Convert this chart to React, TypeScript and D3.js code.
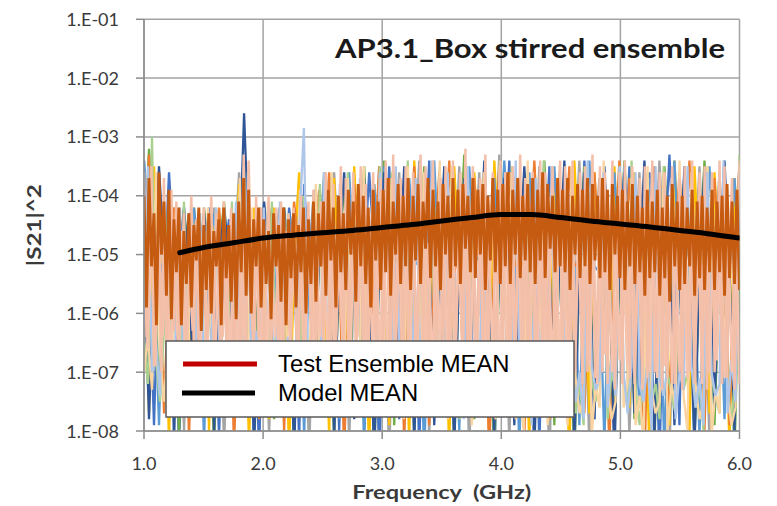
import React from 'react';
import * as d3 from 'd3';

// ---------- axes ----------
const X_TICKS = [1, 2, 3, 4, 5, 6];
const X_TICK_LABELS = ['1.0', '2.0', '3.0', '4.0', '5.0', '6.0'];
const Y_TICKS = [1e-1, 1e-2, 1e-3, 1e-4, 1e-5, 1e-6, 1e-7, 1e-8];
const Y_TICK_LABELS = ['1.E-01', '1.E-02', '1.E-03', '1.E-04', '1.E-05', '1.E-06', '1.E-07', '1.E-08'];

// ---------- ensemble traces: log10(|S21|^2), swept uniformly 1 -> 6 GHz ----------
const BLUE = [
  -3.4,-5.2,-7.9,-4.9,-5.5,-3.6,-5.1,-8.3,-5.4,-4.3,-5.0,-7.2,
  -5.3,-4.2,-5.6,-8.1,-5.0,-4.4,-5.2,-7.6,-3.7,-5.1,-5.5,-8.4,
  -4.9,-4.3,-7.7,-5.2,-5.4,-4.2,-5.0,-8.2,-3.8,-5.3,-4.8,-7.5,
  -5.1,-3.7,-5.4,-8.0,-5.0,-3.9,-5.6,-7.4,-5.2,-3.6,-4.9,-8.5,
  -5.3,-3.5,-5.0,-7.8,-5.4,-3.8,-5.1,-8.3,-5.2,-3.4,-5.5,-7.6,
  -3.6,-5.2,-8.1,-5.0,-3.5,-5.3,-7.7,-5.1,-3.9,-5.4,-8.6,-5.0,
  -5.2,-3.4,-5.1,-7.9,-5.3,-3.7,-5.0,-8.2,-5.4,-3.5,-5.2,-7.5,
  -3.7,-5.0,-8.4,-5.3,-3.4,-5.1,-7.8,-5.2,-3.6,-5.5,-8.0,-5.1,
  -5.3,-3.5,-5.2,-7.6,-5.0,-3.6,-5.4,-8.5,-5.1,-3.3,-5.2,-7.9,
  -3.6,-5.1,-8.2,-5.3,-3.5,-5.0,-7.7,-5.2,-3.8,-5.4,-8.3,-3.5];
const GRAY = [
  -5.1,-3.3,-5.4,-7.6,-5.0,-5.2,-4.2,-5.3,-8.0,-5.1,-4.3,-5.5,
  -7.4,-5.2,-4.2,-5.0,-8.3,-5.3,-5.1,-3.6,-5.4,-7.9,-5.0,-4.3,
  -5.2,-8.1,-5.0,-4.2,-5.3,-7.5,-5.1,-3.7,-5.4,-8.4,-5.2,-4.0,
  -5.0,-7.7,-3.6,-5.3,-5.1,-8.2,-5.2,-3.8,-5.0,-7.6,-5.4,-3.5,
  -5.2,-8.5,-5.0,-3.6,-5.4,-7.8,-5.1,-3.4,-5.3,-8.1,-5.0,-3.7,
  -5.1,-7.5,-5.3,-3.5,-5.2,-8.4,-5.0,-3.6,-5.4,-7.9,-5.1,-3.3,
  -5.3,-8.2,-5.0,-3.7,-5.1,-7.6,-5.4,-3.5,-5.2,-8.6,-5.0,-3.6,
  -5.2,-7.8,-5.1,-3.4,-5.3,-8.3,-5.0,-3.7,-5.2,-7.5,-5.4,-3.5,
  -5.0,-8.1,-5.3,-3.6,-5.1,-7.7,-5.2,-3.4,-5.0,-8.4,-5.3,-3.8,
  -5.1,-7.9,-5.2,-3.5,-5.4,-8.2,-5.0,-3.6,-5.3,-7.6,-5.1,-3.4];
const GOLD = [
  -4.9,-7.7,-3.5,-5.2,-5.0,-8.2,-4.3,-5.3,-5.1,-7.5,-4.2,-5.4,
  -5.0,-8.0,-4.3,-5.2,-5.1,-7.6,-5.3,-3.8,-5.0,-8.3,-4.2,-5.1,
  -5.3,-7.8,-4.2,-5.0,-5.2,-8.4,-5.1,-3.6,-5.3,-7.5,-4.1,-5.2,
  -5.0,-8.1,-3.7,-5.4,-5.1,-7.6,-3.5,-5.2,-5.0,-8.5,-3.8,-5.3,
  -5.2,-7.9,-3.6,-5.0,-5.3,-8.2,-3.4,-5.1,-5.2,-7.7,-3.7,-5.4,
  -5.1,-8.4,-3.5,-5.3,-5.0,-7.6,-3.6,-5.2,-5.4,-8.1,-3.4,-5.0,
  -5.3,-7.5,-3.7,-5.1,-5.2,-8.3,-3.5,-5.0,-5.1,-7.8,-3.6,-5.3,
  -5.0,-8.6,-3.4,-5.2,-5.3,-7.7,-3.6,-5.1,-5.0,-8.2,-3.5,-5.4,
  -5.2,-7.6,-3.6,-5.0,-5.1,-8.4,-3.7,-5.3,-5.2,-7.9,-3.4,-5.1,
  -5.1,-8.1,-3.5,-5.3,-5.0,-7.7,-3.6,-5.2,-5.4,-8.3,-3.7,-5.0];
const GREEN = [
  -5.2,-3.2,-5.0,-7.4,-5.3,-4.2,-5.1,-8.1,-5.0,-4.3,-5.4,-7.7,
  -4.2,-5.1,-8.4,-5.0,-4.1,-5.3,-7.6,-5.2,-3.6,-5.0,-8.0,-5.1,
  -4.3,-5.2,-7.8,-5.0,-4.2,-5.3,-8.3,-5.1,-4.0,-5.2,-7.5,-5.0,
  -3.6,-5.3,-8.2,-5.1,-3.8,-5.0,-7.7,-5.2,-3.5,-5.4,-8.5,-5.1,
  -3.4,-5.0,-7.9,-5.3,-3.7,-5.2,-8.1,-5.0,-3.5,-5.1,-7.6,-5.3,
  -3.7,-5.2,-8.3,-5.0,-3.3,-5.1,-7.8,-5.4,-3.6,-5.0,-8.4,-5.2,
  -3.5,-5.1,-7.7,-5.3,-3.6,-5.0,-8.2,-5.2,-3.4,-5.3,-7.9,-5.1,
  -3.6,-5.3,-8.5,-5.0,-3.5,-5.2,-7.6,-5.1,-3.7,-5.0,-8.1,-5.3,
  -3.4,-5.0,-7.8,-5.2,-3.6,-5.3,-8.3,-5.0,-3.5,-5.1,-7.7,-5.2,
  -3.7,-5.2,-8.2,-5.1,-3.4,-5.0,-7.9,-5.3,-3.6,-5.2,-8.4,-5.0];
const MID_BLUE = [
  -3.4,-5.0,-5.3,-7.9,-5.1,-4.3,-5.2,-5.0,-7.5,-5.3,-4.2,-5.1,
  -8.2,-5.0,-4.3,-5.2,-5.1,-7.7,-5.3,-4.1,-3.5,-5.0,-8.4,-5.2,
  -4.2,-5.1,-5.0,-7.6,-5.3,-4.3,-5.2,-5.1,-8.1,-5.0,-3.9,-5.2,
  -3.7,-5.3,-5.1,-7.8,-5.0,-3.6,-5.2,-5.3,-8.3,-5.1,-3.8,-5.0,
  -3.5,-5.2,-5.0,-7.6,-5.3,-3.7,-5.1,-5.2,-8.5,-5.0,-3.4,-5.3,
  -3.6,-5.1,-5.3,-8.0,-5.2,-3.5,-5.0,-5.1,-7.7,-5.3,-3.7,-5.2,
  -3.4,-5.0,-5.2,-8.3,-5.1,-3.6,-5.3,-5.0,-7.5,-5.2,-3.5,-5.1,
  -3.7,-5.3,-5.1,-7.9,-5.0,-3.4,-5.2,-5.3,-8.2,-5.1,-3.6,-5.0,
  -3.5,-5.2,-5.0,-7.6,-5.3,-3.7,-5.1,-5.2,-8.4,-5.0,-3.4,-5.3,
  -3.6,-5.1,-5.3,-8.1,-5.2,-3.5,-5.0,-5.1,-7.8,-5.3,-3.7,-5.2];
const ORANGE = [
  -5.3,-3.3,-5.1,-5.0,-7.7,-5.2,-4.2,-5.3,-5.1,-8.1,-5.0,-4.3,
  -5.2,-7.5,-5.0,-4.2,-5.3,-5.1,-8.3,-5.2,-3.6,-5.0,-5.3,-7.8,
  -5.1,-4.2,-5.0,-5.2,-8.0,-5.3,-4.1,-5.0,-5.1,-7.6,-5.2,-3.9,
  -5.0,-3.6,-5.2,-5.1,-8.4,-5.3,-3.8,-5.0,-5.2,-7.7,-5.1,-3.5,
  -5.3,-3.7,-5.0,-5.2,-8.2,-5.1,-3.5,-5.3,-5.0,-7.9,-5.2,-3.6,
  -5.1,-3.4,-5.3,-5.0,-7.6,-5.2,-3.7,-5.1,-5.3,-8.5,-5.0,-3.5,
  -5.2,-3.6,-5.1,-5.3,-8.1,-5.0,-3.4,-5.2,-5.1,-7.8,-5.3,-3.7,
  -5.0,-3.5,-5.2,-5.1,-7.7,-5.3,-3.6,-5.0,-5.2,-8.3,-5.1,-3.4,
  -5.3,-3.7,-5.0,-5.2,-8.6,-5.1,-3.5,-5.3,-5.0,-7.6,-5.2,-3.6,
  -5.1,-3.4,-5.3,-5.0,-8.0,-5.2,-3.7,-5.1,-5.3,-7.9,-5.0,-3.5];
const DARK_BLUE = [
  -5.0,-7.8,-5.2,-3.5,-5.1,-4.3,-8.2,-5.0,-4.2,-5.3,-7.6,-5.1,
  -4.3,-5.0,-8.0,-5.2,-4.2,-5.1,-7.5,-5.3,-2.6,-5.0,-8.3,-5.2,
  -4.1,-5.1,-7.7,-5.0,-4.2,-5.3,-8.4,-5.1,-4.0,-5.2,-7.6,-5.0,
  -3.8,-5.2,-8.1,-5.0,-3.6,-5.3,-7.8,-5.1,-3.7,-5.0,-8.5,-5.2,
  -3.6,-5.0,-7.6,-5.3,-3.5,-5.1,-8.2,-5.2,-3.8,-5.0,-7.9,-5.3,
  -3.5,-5.2,-8.3,-5.1,-3.7,-5.0,-7.7,-5.3,-3.4,-5.2,-8.0,-5.1,
  -3.7,-5.1,-7.9,-5.2,-3.5,-5.3,-8.4,-5.0,-3.6,-5.1,-7.6,-5.2,
  -3.4,-5.3,-8.2,-5.0,-3.6,-5.2,-7.8,-5.1,-3.5,-5.3,-8.5,-5.0,
  -3.6,-5.0,-7.7,-5.3,-3.4,-5.1,-8.1,-5.2,-3.7,-5.0,-7.9,-5.3,
  -3.5,-5.2,-8.3,-5.1,-3.6,-5.0,-7.6,-5.2,-3.4,-5.3,-8.0,-3.6];
const LIGHT_GREEN = [
  -6.5,-7.2,-3.0,-6.8,-7.5,-6.3,-4.2,-7.1,-6.6,-7.4,-4.1,-6.9,-7.2,-6.4,-4.3,
  -7.0,-6.6,-7.5,-4.2,-6.8,-7.3,-6.5,-4.1,-7.4,-6.9,-3.5,-7.1,-6.7,-7.6,-4.2,
  -6.9,-7.2,-4.1,-6.6,-7.5,-6.8,-4.3,-7.0,-6.5,-7.3,-4.0,-6.9,-7.4,-6.7,-3.8,
  -7.1,-6.8,-3.7,-7.4,-6.6,-7.2,-3.6,-6.9,-7.6,-6.7,-3.8,-7.3,-6.8,-7.0,-3.5,
  -7.3,-6.9,-3.6,-7.5,-6.8,-7.7,-3.4,-7.0,-7.2,-6.7,-3.7,-7.6,-6.9,-7.4,-3.5,
  -7.0,-7.5,-3.6,-6.9,-7.8,-7.1,-3.5,-7.3,-6.8,-7.6,-3.7,-7.0,-7.4,-6.9,-3.4,
  -7.2,-7.7,-3.5,-7.0,-7.4,-6.9,-3.6,-7.8,-7.1,-7.3,-3.4,-6.9,-7.6,-7.2,-3.7,
  -7.4,-7.0,-3.6,-7.7,-7.2,-7.9,-3.5,-7.1,-7.5,-6.9,-3.7,-7.8,-7.0,-7.3,-3.5,
  -7.1,-7.6,-3.4,-7.3,-7.9,-7.0,-3.6,-7.5,-7.2,-7.8,-3.5,-7.0,-7.4,-7.7,-3.6,
  -7.3,-7.0,-3.7,-7.6,-7.2,-8.0,-3.5,-7.1,-7.4,-7.7,-3.6,-7.2,-7.9,-7.0,-3.3];
const LIGHT_ORANGE = [
  -7.0,-6.4,-7.3,-3.6,-6.7,-7.5,-6.5,-7.1,-4.2,-6.9,-7.4,-6.6,-4.3,-7.2,-6.8,
  -7.5,-4.2,-6.7,-7.3,-6.9,-4.1,-7.6,-6.6,-7.1,-3.7,-7.4,-6.8,-4.2,-7.0,-6.5,
  -7.3,-4.1,-6.8,-7.6,-6.6,-4.2,-7.1,-6.9,-7.5,-3.9,-7.2,-6.7,-7.4,-3.8,-7.0,
  -6.9,-7.5,-3.6,-7.2,-6.8,-7.7,-3.7,-7.0,-7.4,-6.9,-3.5,-7.6,-7.1,-6.8,-3.8,
  -7.4,-7.0,-3.7,-7.6,-7.2,-7.8,-3.5,-6.9,-7.3,-7.5,-3.6,-7.1,-7.7,-7.0,-3.4,
  -7.2,-7.8,-3.5,-7.0,-7.5,-7.3,-3.7,-7.9,-7.1,-7.4,-3.6,-7.2,-7.6,-7.8,-3.5,
  -7.5,-7.1,-3.6,-7.8,-7.3,-8.0,-3.4,-7.2,-7.6,-7.4,-3.7,-7.9,-7.1,-7.5,-3.5,
  -7.3,-7.9,-3.5,-7.1,-7.7,-7.4,-3.6,-8.1,-7.2,-7.6,-3.4,-7.3,-7.8,-7.5,-3.6,
  -7.6,-7.2,-3.7,-7.9,-7.4,-8.2,-3.5,-7.3,-7.7,-7.5,-3.6,-8.0,-7.2,-7.6,-3.4,
  -7.4,-8.0,-3.6,-7.2,-7.8,-7.5,-3.5,-8.1,-7.3,-7.7,-3.7,-7.4,-7.9,-7.6,-3.5];
const LIGHT_BLUE = [
  -6.2,-3.5,-7.0,-6.5,-7.4,-4.1,-6.8,-7.2,-6.3,-4.2,-7.5,-6.6,-7.1,-6.4,-4.3,
  -6.9,-7.3,-6.2,-4.2,-7.0,-6.7,-7.6,-6.5,-4.1,-7.2,-6.8,-3.6,-7.4,-6.3,-7.0,
  -4.2,-6.6,-7.3,-6.9,-4.1,-7.1,-6.4,-7.5,-6.7,-4.3,-2.85,-6.8,-7.2,-6.5,-7.4,
  -3.6,-6.9,-7.0,-6.4,-3.8,-7.3,-6.6,-7.6,-6.8,-3.7,-7.1,-6.5,-7.4,-6.9,-3.6,
  -7.0,-6.6,-7.5,-3.5,-6.9,-7.2,-6.7,-7.7,-3.7,-6.5,-7.3,-6.9,-3.4,-7.6,-6.8,
  -7.1,-3.6,-6.7,-7.4,-6.9,-7.8,-3.5,-6.6,-7.2,-7.0,-3.8,-7.5,-6.8,-7.3,-3.6,
  -6.9,-7.6,-6.6,-3.4,-7.1,-7.3,-6.8,-7.9,-3.7,-6.7,-7.4,-7.0,-3.5,-7.7,-6.9,
  -7.2,-3.7,-6.8,-7.5,-7.0,-7.8,-3.4,-6.9,-7.3,-7.1,-3.6,-7.6,-6.7,-7.4,-3.5,
  -7.0,-7.7,-6.9,-3.6,-7.2,-7.5,-6.8,-8.0,-3.5,-7.1,-7.4,-6.9,-3.7,-7.8,-7.0,
  -7.3,-3.5,-6.9,-7.6,-7.1,-7.9,-3.6,-7.0,-7.4,-7.2,-3.4,-7.7,-6.8,-7.5,-3.6];
const PEACH = [
  -4.8,-6.6,-4.5,-6.9,-5.0,-6.4,-4.7,-7.0,-4.9,-6.5,-4.6,-6.8,-5.1,-6.3,-4.8,-6.7,
  -5.0,-6.5,-4.7,-6.9,-4.9,-6.4,-5.2,-6.8,-4.6,-7.0,-4.9,-6.6,-4.8,-6.3,-5.0,-6.9,
  -4.7,-6.6,-5.0,-6.4,-4.8,-7.0,-4.6,-6.5,-5.1,-6.8,-4.9,-6.6,-4.7,-6.9,-5.0,-6.4,
  -4.8,-6.7,-4.6,-6.9,-5.0,-6.5,-4.7,-6.8,-4.9,-6.4,-4.6,-7.0,-4.8,-6.6,-5.0,-6.8,
  -4.6,-6.9,-4.8,-6.5,-4.5,-7.0,-4.9,-6.6,-4.7,-6.8,-4.5,-6.7,-4.8,-7.1,-4.6,-6.6,
  -4.7,-6.8,-4.5,-7.0,-4.8,-6.6,-4.6,-7.1,-4.9,-6.7,-4.5,-6.9,-4.7,-6.6,-4.8,-7.0,
  -4.5,-6.9,-4.7,-6.7,-4.6,-7.2,-4.8,-6.8,-4.5,-7.0,-4.7,-6.6,-4.6,-7.1,-4.8,-6.9,
  -4.6,-7.1,-4.8,-6.8,-4.5,-7.0,-4.7,-6.9,-4.6,-7.2,-4.8,-6.7,-4.5,-7.0,-4.7,-6.8,
  -4.7,-6.9,-4.5,-7.2,-4.8,-6.8,-4.6,-7.0,-4.7,-7.1,-4.5,-6.9,-4.8,-7.2,-4.6,-7.0,
  -4.6,-7.1,-4.8,-6.9,-4.7,-7.2,-4.5,-7.0,-4.8,-6.8,-4.6,-7.1,-4.7,-7.0,-4.5,-7.2];
const SALMON = [
  -3.6,-6.4,-5.0,-3.5,-6.9,-5.8,-4.2,-7.0,-3.7,-6.6,-5.2,-3.9,
  -6.3,-4.1,-6.7,-5.6,-4.3,-7.0,-5.1,-4.0,-6.5,-4.4,-6.9,-5.3,
  -4.2,-6.8,-5.7,-4.0,-6.6,-4.3,-5.4,-7.1,-4.1,-6.5,-5.1,-4.2,
  -6.7,-5.9,-4.1,-7.0,-3.3,-6.6,-3.4,-5.3,-6.9,-4.0,-6.4,-4.2,
  -6.9,-5.6,-4.0,-6.7,-5.0,-4.2,-7.0,-4.1,-6.5,-5.4,-4.3,-6.6,
  -4.2,-5.8,-7.1,-4.0,-6.8,-5.2,-4.1,-6.5,-3.9,-6.9,-5.0,-4.1,
  -6.7,-3.6,-5.5,-6.9,-3.8,-6.6,-5.1,-3.5,-7.0,-3.7,-6.5,-5.4,
  -3.6,-6.9,-5.7,-3.5,-7.2,-3.8,-6.7,-5.0,-3.6,-6.8,-5.3,-3.7,
  -6.8,-3.4,-5.6,-7.0,-3.3,-6.9,-5.2,-3.7,-7.1,-3.5,-6.7,-5.0,
  -3.6,-7.0,-5.8,-3.3,-6.8,-3.5,-7.2,-5.1,-3.4,-6.9,-5.4,-3.7,
  -6.9,-3.5,-5.7,-7.1,-3.4,-6.8,-5.3,-3.6,-7.0,-3.2,-7.2,-5.0,
  -3.5,-7.1,-5.9,-3.7,-6.9,-3.3,-7.0,-5.0,-3.6,-7.3,-5.2,-3.4,
  -7.0,-3.6,-5.6,-7.2,-3.5,-6.9,-5.2,-3.3,-7.1,-3.7,-7.0,-5.1,
  -3.6,-7.2,-5.8,-3.4,-7.0,-3.6,-7.3,-5.1,-3.5,-6.9,-5.3,-3.4,
  -6.9,-3.5,-5.7,-7.3,-3.4,-7.0,-5.3,-3.6,-7.2,-3.5,-7.0,-5.0,
  -3.3,-7.1,-5.9,-3.5,-7.0,-3.6,-7.2,-5.0,-3.4,-7.3,-5.2,-3.6,
  -7.2,-3.4,-5.8,-7.1,-3.5,-7.0,-5.2,-3.7,-7.3,-3.5,-7.1,-5.0,
  -3.4,-7.0,-5.7,-3.6,-7.3,-3.6,-7.1,-5.1,-3.5,-7.2,-5.3,-3.7,
  -7.3,-3.5,-5.9,-7.0,-3.4,-7.2,-5.3,-3.6,-7.1,-3.5,-7.3,-5.0,
  -3.6,-7.0,-5.8,-3.4,-7.2,-3.5,-7.1,-5.0,-3.7,-7.3,-5.1,-3.4];
const DARK_ORANGE = [
  -4.0,-5.9,-3.7,-5.2,-4.3,-6.2,-3.6,-5.0,-4.1,-5.7,-3.9,-6.1,
  -4.4,-5.3,-4.2,-6.2,-4.6,-5.5,-4.3,-5.9,-4.5,-5.1,-4.2,-6.3,
  -4.5,-5.6,-4.3,-6.0,-4.6,-5.2,-4.4,-6.2,-4.2,-5.4,-4.5,-5.8,
  -4.3,-6.1,-4.1,-5.3,-3.7,-5.7,-3.9,-6.0,-4.4,-5.2,-4.2,-5.9,
  -4.4,-5.5,-4.6,-6.1,-4.3,-5.2,-4.5,-5.8,-4.2,-6.2,-4.4,-5.4,
  -4.3,-5.9,-4.5,-5.3,-4.2,-6.0,-4.4,-5.5,-4.1,-5.8,-4.3,-5.2,
  -4.1,-5.7,-3.9,-5.1,-4.2,-5.9,-4.0,-5.3,-4.3,-5.6,-3.9,-5.0,
  -4.1,-5.8,-3.8,-5.2,-4.0,-5.5,-4.2,-5.9,-3.9,-5.1,-4.1,-5.6,
  -3.9,-5.3,-3.7,-5.7,-4.1,-5.0,-3.8,-5.5,-4.0,-5.2,-3.7,-5.6,
  -4.0,-5.1,-3.8,-5.5,-4.1,-4.9,-3.7,-5.4,-3.9,-5.2,-4.1,-5.6,
  -3.8,-5.0,-4.0,-5.4,-3.7,-5.2,-3.9,-5.5,-3.8,-4.9,-4.0,-5.3,
  -3.7,-5.4,-3.9,-5.0,-3.8,-5.6,-4.0,-5.1,-3.7,-5.3,-3.9,-5.5,
  -3.8,-5.2,-3.6,-5.5,-3.9,-5.0,-3.7,-5.4,-4.0,-5.1,-3.8,-5.3,
  -3.7,-5.5,-3.9,-5.1,-3.6,-5.4,-3.8,-4.9,-4.0,-5.3,-3.7,-5.2,
  -3.9,-5.3,-3.7,-5.6,-4.0,-5.0,-3.8,-5.4,-3.9,-5.2,-3.7,-5.5,
  -3.8,-5.1,-4.0,-5.4,-3.7,-5.3,-3.9,-5.6,-3.8,-5.0,-4.0,-5.4,
  -3.9,-5.6,-4.1,-5.2,-3.8,-5.5,-4.0,-5.3,-4.2,-5.7,-3.9,-5.4,
  -4.1,-5.3,-3.9,-5.7,-4.2,-5.4,-4.0,-5.8,-3.8,-5.2,-4.1,-5.6,
  -4.0,-5.5,-4.2,-5.2,-3.9,-5.7,-4.1,-5.4,-4.0,-5.6,-4.2,-5.3,
  -3.9,-5.6,-4.1,-5.3,-4.0,-5.7,-3.8,-5.4,-4.1,-5.5,-3.9,-5.6];

// Model MEAN (smooth curve)
const MODEL_FREQ = [1.3, 1.5, 1.75, 2.0, 2.25, 2.5, 2.75, 3.0, 3.25, 3.5, 3.75, 4.0, 4.25, 4.5, 4.75, 5.0, 5.25, 5.5, 5.75, 6.0];
const MODEL_LOG = [-4.97, -4.88, -4.80, -4.72, -4.67, -4.63, -4.59, -4.54, -4.49, -4.43, -4.37, -4.32, -4.32, -4.37, -4.43, -4.48, -4.53, -4.59, -4.65, -4.72];

const TITLE = 'AP3.1_Box stirred ensemble';
const X_TITLE = 'Frequency\u00A0 (GHz)';
const Y_TITLE = '|S21|^2';
const LEGEND_LABELS = ['Test Ensemble MEAN', 'Model MEAN'];

// drawing order (back to front) and colours
const TRACES = [
  { values: BLUE, color: '#4472C4' },
  { values: GRAY, color: '#A5A5A5' },
  { values: GOLD, color: '#FFC000' },
  { values: GREEN, color: '#70AD47' },
  { values: MID_BLUE, color: '#5B9BD5' },
  { values: ORANGE, color: '#ED7D31' },
  { values: DARK_BLUE, color: '#2F5597' },
  { values: LIGHT_GREEN, color: '#A9D08E' },
  { values: LIGHT_ORANGE, color: '#F9D3A0' },
  { values: LIGHT_BLUE, color: '#ADC6EA' },
  { values: PEACH, color: '#F5C3AE' },
  { values: SALMON, color: '#F4BFA9' },
  { values: DARK_ORANGE, color: '#C55A11' },
];

export default function App() {
  const W = 777, H = 506;
  const left = 144, right = 739.5, top = 19.3, bottom = 431;
  const x = d3.scaleLinear().domain([1, 6]).range([left, right]);
  const y = d3.scaleLog().domain([1e-8, 1e-1]).range([bottom, top]);
  const line = d3.line<[number, number]>();
  const smooth = d3.line<[number, number]>().curve(d3.curveMonotoneX);

  const pts = (vals: number[]) => {
    const n = vals.length;
    return vals.map((v, i) => [x(1 + (5 * i) / (n - 1)), y(Math.pow(10, v))] as [number, number]);
  };
  const modelPath = smooth(MODEL_FREQ.map((f, i) => [x(f), y(Math.pow(10, MODEL_LOG[i]))]));

  const grid = '#A3A3A3';
  const axisCol = '#8C8C8C';
  const font = 'Lato, "Open Sans", sans-serif';
  const widthFor = (i: number) => (i === TRACES.length - 1 ? 2.9 : i >= 10 ? 2.5 : 2.3);

  return (
    <svg width={W} height={H} style={{ position: 'absolute', left: 0, top: 0 }}>
      <rect x={0} y={0} width={W} height={H} fill="#fff" />
      <defs>
        <clipPath id="plotClip">
          <rect x={left} y={top} width={right - left} height={bottom - top} />
        </clipPath>
      </defs>

      {Y_TICKS.map((t) => (
        <line key={'hy' + t} x1={left} x2={right} y1={y(t)} y2={y(t)} stroke={grid} strokeWidth={1.5} />
      ))}
      {X_TICKS.map((t) => (
        <line key={'vx' + t} x1={x(t)} x2={x(t)} y1={top} y2={bottom} stroke={grid} strokeWidth={1.5} />
      ))}

      <g clipPath="url(#plotClip)" fill="none">
        {TRACES.map((t, i) => (
          <path key={i} d={line(pts(t.values)) || ''} stroke={t.color}
            strokeWidth={widthFor(i)} strokeLinejoin="bevel" />
        ))}
        <path d={modelPath || ''} stroke="#000" strokeWidth={5} strokeLinecap="round" />
      </g>

      <line x1={left} x2={left} y1={top} y2={bottom + 0.5} stroke={axisCol} strokeWidth={1.5} />
      <line x1={left} x2={right} y1={bottom} y2={bottom} stroke={axisCol} strokeWidth={1.5} />
      {Y_TICKS.map((t) => (
        <line key={'ty' + t} x1={left - 8} x2={left} y1={y(t)} y2={y(t)} stroke={axisCol} strokeWidth={1.5} />
      ))}
      {X_TICKS.map((t) => (
        <line key={'tx' + t} x1={x(t)} x2={x(t)} y1={bottom} y2={bottom + 8} stroke={axisCol} strokeWidth={1.5} />
      ))}

      {Y_TICKS.map((t, i) => (
        <text key={'ly' + t} x={119} y={y(t) + 6.5} textAnchor="end" fontFamily={font} fontSize={18} fill="#3A3A3A">
          {Y_TICK_LABELS[i]}
        </text>
      ))}
      {X_TICKS.map((t, i) => (
        <text key={'lx' + t} x={x(t)} y={470} textAnchor="middle" fontFamily={font} fontSize={18} fill="#3A3A3A">
          {X_TICK_LABELS[i]}
        </text>
      ))}

      <text x={(left + right) / 2} y={499} textAnchor="middle" fontFamily={font} fontWeight="bold" fontSize={19}
        fill="#3A3A3A" textLength={179} lengthAdjust="spacingAndGlyphs">
        {X_TITLE}
      </text>
      <text transform={`translate(41, ${(top + bottom) / 2}) rotate(-90)`} textAnchor="middle" fontFamily={font}
        fontWeight="bold" fontSize={19} fill="#3A3A3A" textLength={82} lengthAdjust="spacingAndGlyphs">
        {Y_TITLE}
      </text>

      <text x={335} y={58} fontFamily={font} fontWeight="bold" fontSize={27} fill="#1A1A1A"
        textLength={390} lengthAdjust="spacingAndGlyphs">
        {TITLE}
      </text>

      <rect x={166} y={341} width={408} height={76} fill="#fff" stroke="#5A5A5A" strokeWidth={1.5} />
      <line x1={183} x2={257} y1={364} y2={364} stroke="#C00000" strokeWidth={5} />
      <line x1={182} x2={255} y1={393} y2={393} stroke="#000" strokeWidth={5} />
      <text x={278} y={372} fontFamily='"Liberation Sans", Arial, sans-serif' fontSize={23.8} fill="#000">
        {LEGEND_LABELS[0]}
      </text>
      <text x={278} y={401} fontFamily='"Liberation Sans", Arial, sans-serif' fontSize={23.8} fill="#000">
        {LEGEND_LABELS[1]}
      </text>
    </svg>
  );
}
